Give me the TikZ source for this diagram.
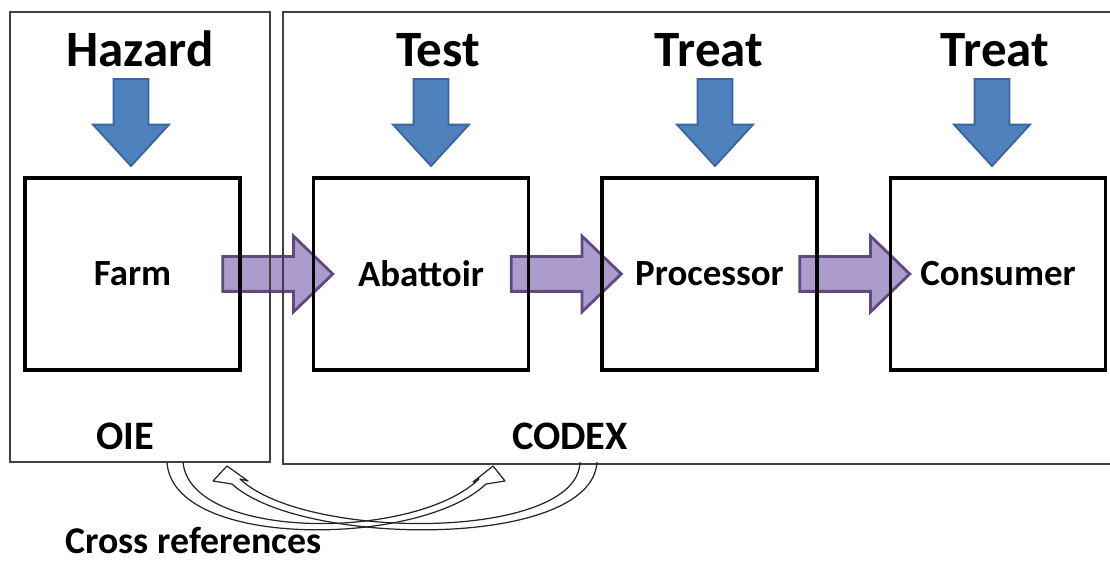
\documentclass[tikz,border=0pt]{standalone}
\usepackage{fontspec}
\setmainfont{Carlito}
\usepackage{tikz}
\usetikzlibrary{positioning,calc,shapes.arrows,backgrounds}
\definecolor{edge}{HTML}{404040}
\definecolor{hfill}{HTML}{4F81BD}
\definecolor{hline}{HTML}{3A679E}
\definecolor{pfill}{HTML}{AC9BCD}
\definecolor{pline}{HTML}{5F4A7F}
\tikzset{
  frame/.style={draw=edge, line width=0.9pt, inner sep=0pt, outer sep=0pt},
  stage/.style={draw=black, line width=2pt, minimum width=4.3cm, minimum height=3.84cm,
    outer sep=0pt, font=\fontsize{21}{25}\selectfont\bfseries},
  htitle/.style={anchor=base, inner sep=0pt, font=\fontsize{29}{34}\selectfont\bfseries},
  org/.style={inner sep=0pt, font=\fontsize{23}{27}\selectfont\bfseries},
  down/.style={single arrow, rotate=-90, fill=hfill, draw=hline, line width=1.1pt,
    minimum height=1.74cm, inner xsep=0pt, inner ysep=0.33cm,
    single arrow head extend=0.41cm, single arrow tip angle=85},
  flow/.style={single arrow, fill=pfill, draw=pline, line width=1.6pt,
    minimum height=2.2cm, inner xsep=0pt, inner ysep=0.32cm,
    single arrow head extend=0.41cm, single arrow tip angle=88},
  xref/.style={draw=black!85, line width=0.7pt, line join=round},
}

\begin{document}
\begin{tikzpicture}
  \useasboundingbox (0,0) rectangle (22.2,11.24);
  % OIE and CODEX frames
  \node[frame, minimum width=5.2cm, minimum height=9cm] (oie) at (2.8,6.5) {};
  \node[frame, minimum width=16.6cm, minimum height=9.04cm] (codex) at (13.96,6.48) {};
  \node[org] (oielab) at (2.5,2.52) {OIE};
  \node[org] (codexlab) at (11.4,2.52) {CODEX};

  % chain of stages
  \node[stage] (farm) at (2.65,5.76) {Farm};
  \node[stage, right=1.47cm of farm] (abattoir) {Abattoir};
  \node[stage, right=1.47cm of abattoir] (processor) {Processor};
  \node[stage, right=1.47cm of processor] (consumer) {Consumer};

  \begin{scope}[on background layer]
    \foreach \a/\b in {farm/abattoir, abattoir/processor, processor/consumer}
      \node[flow, xshift=-0.16cm] (\a-\b) at ($(\a.east)!0.5!(\b.west)$) {};
  \end{scope}

  % controls on top
  \foreach \tx/\ax/\n/\t in {2.80/2.62/haz/Hazard, 8.76/8.62/test/Test,
                             14.18/14.30/treatA/Treat, 19.90/19.84/treatB/Treat} {
    \node[htitle] (\n) at (\tx,9.9) {\t};
    \node[down] (\n-arr) at (\ax,8.98) {};
  }

  % cross references
  \draw[xref] (3.34,2.0) .. controls (3.44,0.24) and (8.4,0.3) .. (9.72,1.56)
    -- (10.1,1.62) -- (9.86,1.92) -- (9.46,1.6) -- (9.58,1.66)
    .. controls (8.3,0.42) and (3.8,0.42) .. (3.66,2.0);
  \draw[xref] (11.94,2.0) .. controls (11.84,0.24) and (6.0,0.3) .. (4.64,1.56)
    -- (4.26,1.62) -- (4.54,1.92) -- (4.96,1.62) -- (4.8,1.66)
    .. controls (6.1,0.42) and (11.56,0.42) .. (11.6,2.0);
  \node[org, anchor=base west, font=\fontsize{21.5}{25}\selectfont\bfseries] (xrefs)
    at (1.3,0.16) {Cross references};
\end{tikzpicture}
\end{document}
